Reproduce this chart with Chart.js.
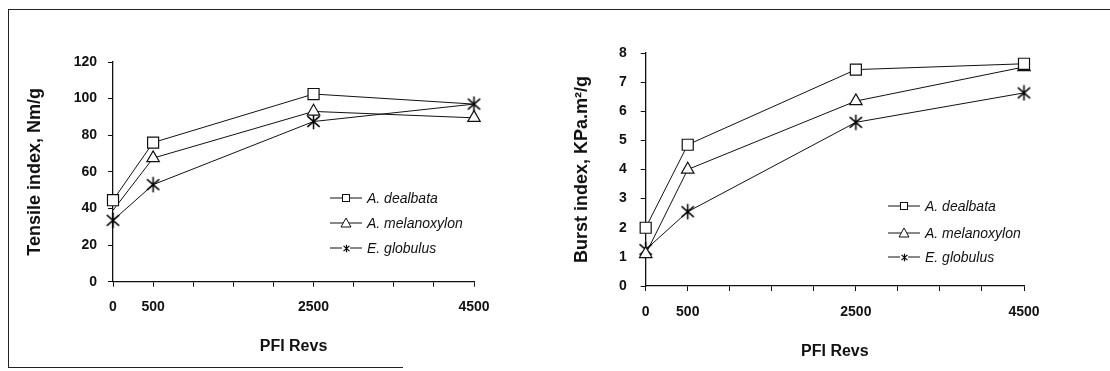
<!DOCTYPE html>
<html>
<head>
<meta charset="utf-8">
<script src="https://cdn.jsdelivr.net/npm/chart.js@4/dist/chart.umd.min.js"></script>
<style>
  html, body { margin: 0; padding: 0; background: #fff; }
  body { width: 1110px; height: 371px; position: relative; overflow: hidden; font-family: "Liberation Sans", Arial, sans-serif; }
  .panel { position: absolute; top: 0; width: 555px; height: 371px; }
  #frameTop { position: absolute; left: 8px; top: 9px; width: 1102px; height: 0; border-top: 1.5px solid #222; }
  #frameLeft { position: absolute; left: 8px; top: 9px; width: 0; height: 359px; border-left: 1.5px solid #222; }
  #frameBottom { position: absolute; left: 8px; top: 367px; width: 395px; height: 0; border-top: 1.5px solid #222; }
</style>
</head>
<body>
<div id="frameTop"></div>
<div id="frameLeft"></div>
<div id="frameBottom"></div>
<div class="panel" style="left:0"><canvas id="chartTensile"></canvas></div>
<div class="panel" style="left:555px"><canvas id="chartBurst"></canvas></div>
<script>
// ---- data ----
const revs = [0, 500, 2500, 4500];
const xTickLabels = [0, 500, 2500, 4500];
const species = ['A. dealbata', 'A. melanoxylon', 'E. globulus'];

const tensileDealbata = [44.5, 76, 102.5, 97];
const tensileMelanoxylon = [39, 67.5, 93, 89.5];
const tensileGlobulus = [33.5, 53, 87.5, 97];

const burstDealbata = [2.0, 4.85, 7.43, 7.63];
const burstMelanoxylon = [1.1, 4.0, 6.35, 7.52];
const burstGlobulus = [1.25, 2.55, 5.62, 6.63];

const INK = '#111';

// asterisk marker (X with a vertical bar)
function starMarker(size, lw) {
    const c = document.createElement('canvas');
    c.width = c.height = size;
    const g = c.getContext('2d');
    const m = size / 2, r = size / 2 - 0.8;
    g.strokeStyle = '#000';
    g.lineWidth = lw;
    g.beginPath();
    g.moveTo(m - r * 0.8, m - r * 0.7); g.lineTo(m + r * 0.8, m + r * 0.7);
    g.moveTo(m + r * 0.8, m - r * 0.7); g.lineTo(m - r * 0.8, m + r * 0.7);
    g.moveTo(m, m - r); g.lineTo(m, m + r);
    g.stroke();
    return c;
}

const bigStar = starMarker(17, 1.5);
const smallStar = starMarker(9, 1.2);

function pts(vals) {
    return revs.map((r, i) => ({ x: r, y: vals[i] }));
}

// hidden: indices whose marker is covered by another one in the original
function radii(r, hidden) {
    return revs.map((_, i) => hidden.includes(i) ? 0 : r);
}

function makeDatasets(a, b, c, hidden) {
    const base = { borderColor: INK, borderWidth: 1, pointBorderColor: INK, pointBackgroundColor: '#fff', pointBorderWidth: 1.2, tension: 0, clip: false };
    return [
        { ...base, label: species[0], data: pts(a), pointStyle: 'rect', pointRadius: radii(7.8, hidden[0]) },
        { ...base, label: species[1], data: pts(b), pointStyle: 'triangle', pointRadius: radii(7.2, hidden[1]) },
        { ...base, label: species[2], data: pts(c), pointStyle: bigStar, pointRadius: radii(8, hidden[2]) }
    ];
}

// legend drawn inside the plot like the original
const insideLegend = {
    id: 'insideLegend',
    afterDraw(chart, args, opts) {
        const ctx = chart.ctx;
        ctx.save();
        ctx.strokeStyle = INK;
        ctx.fillStyle = INK;
        ctx.lineWidth = 1;
        ctx.font = 'italic 14px "Liberation Sans", Arial, sans-serif';
        ctx.textBaseline = 'middle';
        chart.data.datasets.forEach((ds, i) => {
            const y = opts.y + i * opts.gap[i];
            const x0 = opts.x, x1 = opts.x + 32, xm = (x0 + x1) / 2;
            ctx.beginPath();
            ctx.moveTo(x0, y); ctx.lineTo(x1, y);
            ctx.stroke();
            if (i === 0) {
                ctx.fillStyle = '#fff';
                ctx.fillRect(xm - 3.5, y - 3.5, 7, 7);
                ctx.strokeRect(xm - 3.5, y - 3.5, 7, 7);
            } else if (i === 1) {
                ctx.fillStyle = '#fff';
                ctx.beginPath();
                ctx.moveTo(xm, y - 5); ctx.lineTo(xm + 5, y + 4); ctx.lineTo(xm - 5, y + 4); ctx.closePath();
                ctx.fill(); ctx.stroke();
            } else {
                ctx.fillStyle = '#fff';
                ctx.fillRect(xm - 4, y - 5, 8, 10);
                ctx.drawImage(smallStar, Math.round(xm - 4.5), Math.round(y - 4.5));
            }
            ctx.fillStyle = INK;
            ctx.fillText(ds.label, x1 + 5, y + 1);
        });
        ctx.restore();
    }
};

function makeChart(id, datasets, cfg) {
    return new Chart(document.getElementById(id), {
        type: 'line',
        data: { datasets },
        plugins: [insideLegend],
        options: {
            animation: false,
            responsive: true,
            maintainAspectRatio: false,
            devicePixelRatio: 1,
            layout: { padding: cfg.padding },
            plugins: {
                legend: { display: false },
                tooltip: { enabled: false },
                insideLegend: cfg.legend
            },
            scales: {
                x: {
                    type: 'linear',
                    min: 0, max: 4500,
                    afterFit: s => { s.height = cfg.xHeight; },
                    ticks: {
                        stepSize: 500, autoSkip: false, maxRotation: 0,
                        padding: cfg.xTickPad, color: INK,
                        font: { family: '"Liberation Sans", Arial', size: 14, weight: 'bold' },
                        callback: v => xTickLabels.includes(v) ? String(v) : ''
                    },
                    grid: { drawOnChartArea: false, drawTicks: true, tickLength: 5, color: INK },
                    border: { color: INK, width: 1.3 },
                    title: {
                        display: true, text: 'PFI Revs', color: INK,
                        font: { family: '"Liberation Sans", Arial', size: 16, weight: 'bold' },
                        padding: { top: 0, bottom: cfg.xTitlePad }
                    }
                },
                y: {
                    min: 0, max: cfg.yMax,
                    afterFit: s => { s.width = cfg.yWidth; },
                    ticks: {
                        stepSize: cfg.yStep, padding: cfg.yTickPad, color: INK,
                        font: { family: '"Liberation Sans", Arial', size: 14, weight: 'bold' }
                    },
                    grid: { drawOnChartArea: false, drawTicks: true, tickLength: 5, color: INK },
                    border: { color: INK, width: 1.3 },
                    title: {
                        display: true, text: cfg.yTitle, color: INK,
                        font: { family: '"Liberation Sans", Arial', size: 18, weight: 'bold' },
                        padding: { top: cfg.yTitlePad, bottom: 0 }
                    }
                }
            }
        }
    });
}

makeChart('chartTensile', makeDatasets(tensileDealbata, tensileMelanoxylon, tensileGlobulus, [[3], [0], []]), {
    padding: { left: 0, top: 62, right: 81, bottom: 0 },
    xHeight: 89.3, yWidth: 113,
    xTickPad: 12, yTickPad: 11,
    xTitlePad: 14.4, yTitlePad: 24,
    yMax: 120, yStep: 20,
    yTitle: 'Tensile index, Nm/g',
    legend: { x: 330, y: 198, gap: [0, 25, 25] }
});

makeChart('chartBurst', makeDatasets(burstDealbata, burstMelanoxylon, burstGlobulus, [[], [], []]), {
    padding: { left: 0, top: 53, right: 86, bottom: 0 },
    xHeight: 85, yWidth: 90.7,
    xTickPad: 12.5, yTickPad: 14,
    xTitlePad: 9.7, yTitlePad: 16,
    yMax: 8, yStep: 1,
    yTitle: 'Burst index, KPa.m\u00b2/g',
    legend: { x: 333, y: 206, gap: [0, 27, 25.5] }
});
</script>
</body>
</html>
